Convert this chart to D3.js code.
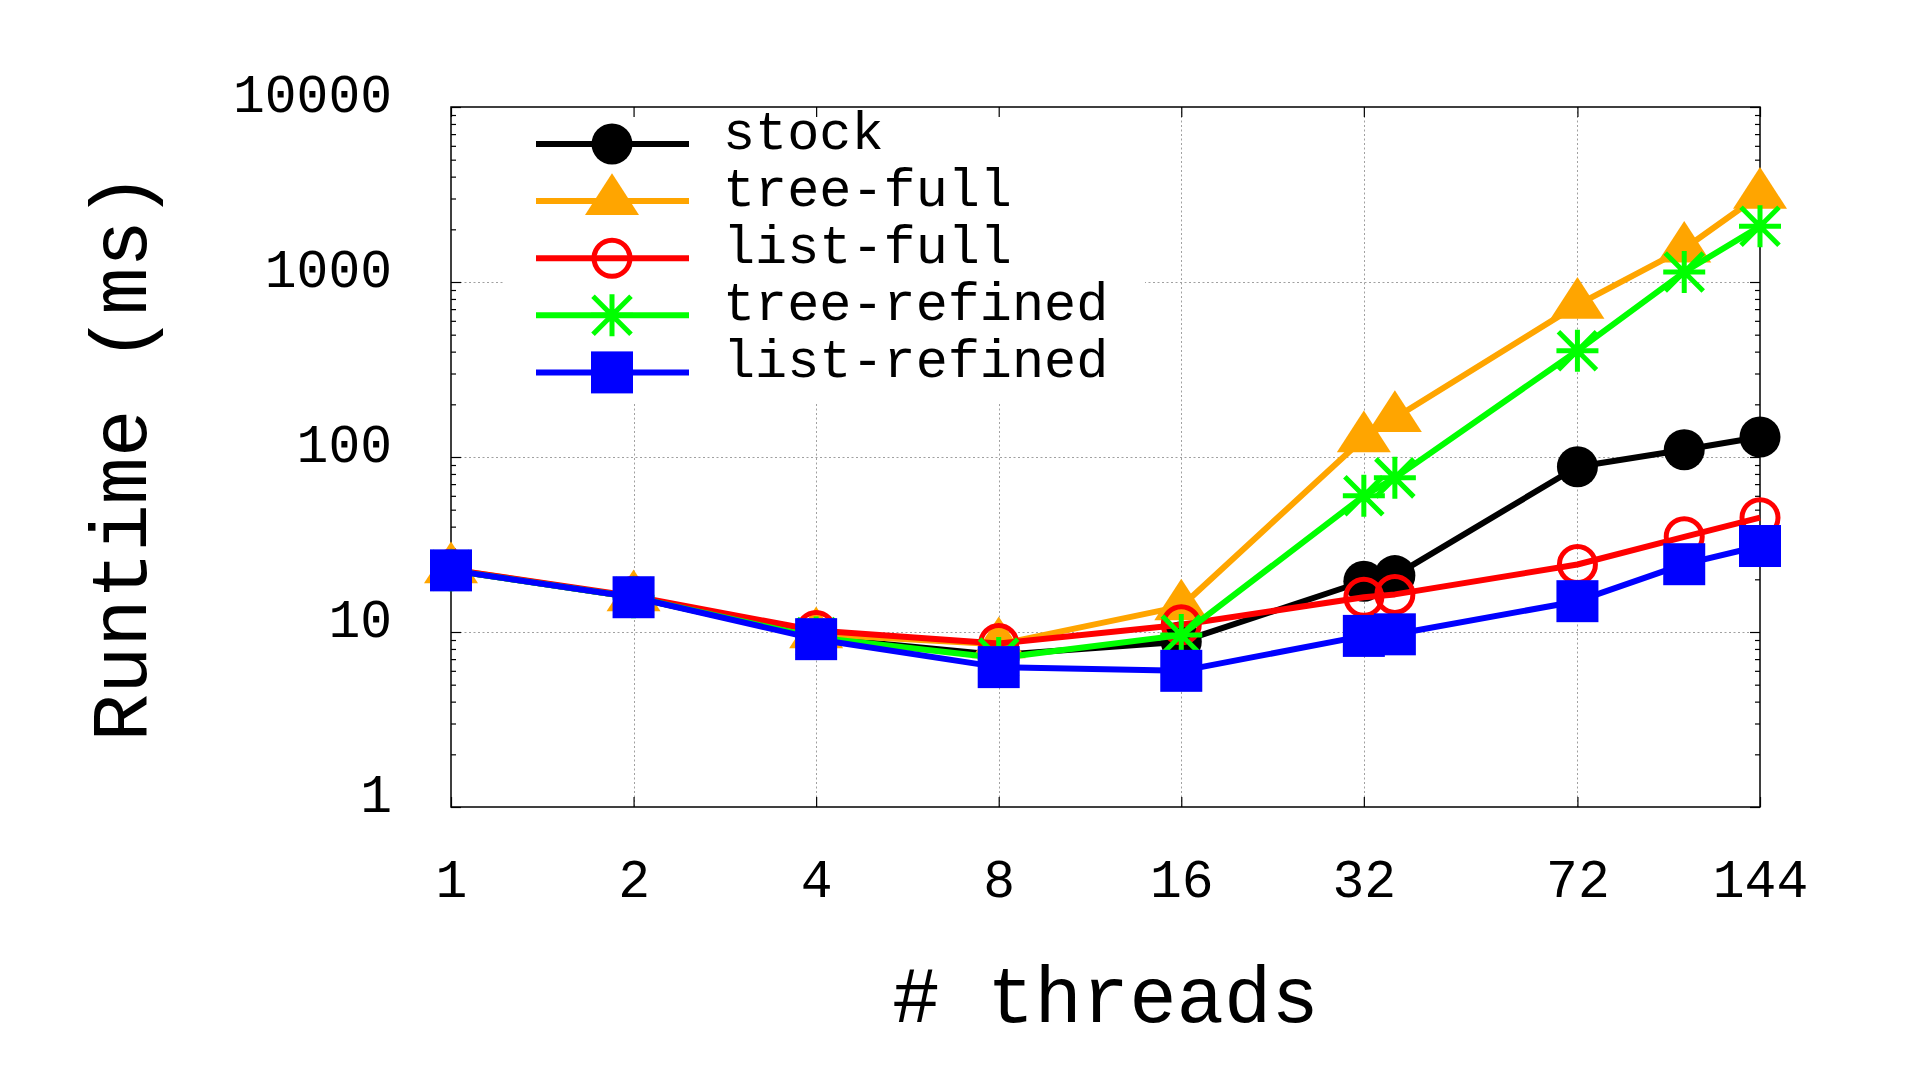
<!DOCTYPE html>
<html>
<head>
<meta charset="utf-8">
<script src="https://cdn.jsdelivr.net/npm/d3@7"></script>
<style>
  body { margin: 0; background: #fff; }
  text { font-family: "Liberation Mono", monospace; fill: #000; }
</style>
</head>
<body>
<div id="chart"></div>
<script>
// data
var threads = [1, 2, 4, 8, 16, 32, 36, 72, 108, 144];
var xTicks = [1, 2, 4, 8, 16, 32, 72, 144];
var yTicks = [1, 10, 100, 1000, 10000];
var seriesNames = ["stock", "tree-full", "list-full", "tree-refined", "list-refined"];
var stock       = [22.5, 15.8, 9.3, 7.4, 8.8, 19.5, 21, 88, 110, 130];
var treeFull    = [22.8, 15.8, 9.7, 8.5, 14, 128, 167, 740, 1550, 3150];
var listFull    = [22.8, 16, 10.2, 8.6, 11, 15.8, 16.4, 24.3, 35, 45];
var treeRefined = [22.5, 15.8, 9.3, 7.1, 9.6, 60, 76, 405, 1140, 2080];
var listRefined = [22.5, 15.8, 9.1, 6.3, 6.0, 9.5, 9.7, 15, 24.4, 31];

var seriesValues = [stock, treeFull, listFull, treeRefined, listRefined];
var colors = ["#000000", "#ffa500", "#ff0000", "#00ff00", "#0000ff"];
var markers = ["circle", "triangle", "ring", "star", "square"];

// set the dimensions and margins of the graph
var margin = { top: 107, right: 160, bottom: 273, left: 451 },
  width = 1920 - margin.left - margin.right,
  height = 1080 - margin.top - margin.bottom;

var x = d3.scaleLog().base(2)
  .domain([1, 144])
  .range([0, width]);

var y = d3.scaleLog()
  .domain([1, 10000])
  .range([height, 0]);

var svg = d3.select("#chart")
  .append("svg")
  .attr("width", 1920)
  .attr("height", 1080)
  .append("g")
  .attr("transform", "translate(" + margin.left + "," + margin.top + ")");

// grid
var grid = svg.append("g")
  .attr("stroke", "#a0a0a0")
  .attr("stroke-width", 1)
  .attr("stroke-dasharray", "2,2.5");

grid.selectAll(".gx")
  .data(xTicks.slice(1, -1))
  .enter().append("line")
  .attr("x1", function (d) { return Math.round(x(d)) + 0.5; })
  .attr("x2", function (d) { return Math.round(x(d)) + 0.5; })
  .attr("y1", 0)
  .attr("y2", height);

grid.selectAll(".gy")
  .data(yTicks.slice(1, -1))
  .enter().append("line")
  .attr("y1", function (d) { return Math.round(y(d)) + 0.5; })
  .attr("y2", function (d) { return Math.round(y(d)) + 0.5; })
  .attr("x1", 0)
  .attr("x2", width);

// legend background hides the grid
svg.append("rect")
  .attr("x", 53)
  .attr("y", 1)
  .attr("width", 641)
  .attr("height", 294)
  .attr("fill", "#fff");

// minor y ticks
var minor = [];
for (var e = 0; e < 4; e++) {
  for (var m = 2; m < 10; m++) minor.push(m * Math.pow(10, e));
}

function styleAxis(g) {
  g.select(".domain").remove();
  g.selectAll(".tick line").attr("stroke", "#000").attr("stroke-width", 1.2);
  g.selectAll(".tick text")
    .attr("font-family", "Liberation Mono")
    .attr("font-size", 53)
    .attr("fill", "#000");
}

// bottom / top axes
svg.append("g")
  .attr("transform", "translate(0," + height + ")")
  .call(d3.axisBottom(x).tickValues(xTicks).tickFormat(d3.format("d"))
    .tickSizeInner(-10).tickSizeOuter(0).tickPadding(52))
  .call(styleAxis);

svg.append("g")
  .call(d3.axisTop(x).tickValues(xTicks).tickFormat("")
    .tickSizeInner(-10).tickSizeOuter(0))
  .call(styleAxis);

// left / right axes
svg.append("g")
  .call(d3.axisLeft(y).tickValues(yTicks).tickFormat(d3.format("d"))
    .tickSizeInner(-10).tickSizeOuter(0).tickPadding(59))
  .call(styleAxis)
  .selectAll(".tick text").attr("dy", "0.08em");

svg.append("g")
  .call(d3.axisLeft(y).tickValues(minor).tickFormat("")
    .tickSizeInner(-5).tickSizeOuter(0))
  .call(styleAxis);

svg.append("g")
  .attr("transform", "translate(" + width + ",0)")
  .call(d3.axisRight(y).tickValues(yTicks).tickFormat("")
    .tickSizeInner(-10).tickSizeOuter(0))
  .call(styleAxis);

svg.append("g")
  .attr("transform", "translate(" + width + ",0)")
  .call(d3.axisRight(y).tickValues(minor).tickFormat("")
    .tickSizeInner(-5).tickSizeOuter(0))
  .call(styleAxis);

// frame
svg.append("rect")
  .attr("x", 0).attr("y", 0)
  .attr("width", width).attr("height", height)
  .attr("fill", "none")
  .attr("stroke", "#000")
  .attr("stroke-width", 1.5);

// axis titles
svg.append("text")
  .attr("x", width / 2)
  .attr("y", 1022 - margin.top)
  .attr("text-anchor", "middle")
  .attr("font-size", 79)
  .text("# threads");

svg.append("text")
  .attr("transform", "translate(" + (146 - margin.left) + "," + (457 - margin.top) + ") rotate(-90)")
  .attr("text-anchor", "middle")
  .attr("font-size", 79)
  .text("Runtime (ms)");

// markers
function drawMarker(g, type, color) {
  if (type === "circle") {
    g.append("circle").attr("r", 20.5).attr("fill", color);
  } else if (type === "ring") {
    g.append("circle").attr("r", 18).attr("fill", "none")
      .attr("stroke", color).attr("stroke-width", 5);
  } else if (type === "square") {
    g.append("rect").attr("x", -21).attr("y", -21)
      .attr("width", 42).attr("height", 42).attr("fill", color);
  } else if (type === "triangle") {
    g.append("path").attr("d", "M0,-27.8L27,13.9L-27,13.9Z").attr("fill", color);
  } else if (type === "star") {
    g.append("path")
      .attr("d", "M-21,0H21M0,-21V21M-19,-19L19,19M-19,19L19,-19")
      .attr("stroke", color).attr("stroke-width", 5).attr("fill", "none");
  }
}

var line = d3.line()
  .x(function (d) { return x(d.t); })
  .y(function (d) { return y(d.v); });

seriesValues.forEach(function (vals, i) {
  var pts = threads.map(function (t, j) { return { t: t, v: vals[j] }; });
  svg.append("path")
    .datum(pts)
    .attr("fill", "none")
    .attr("stroke", colors[i])
    .attr("stroke-width", 6)
    .attr("stroke-linejoin", "round")
    .attr("d", line);
  pts.forEach(function (p) {
    var g = svg.append("g")
      .attr("transform", "translate(" + x(p.t) + "," + y(p.v) + ")");
    drawMarker(g, markers[i], colors[i]);
  });
});

// legend
var legend = svg.append("g");
seriesNames.forEach(function (name, i) {
  var ly = 144 + i * 57.1 - margin.top;
  legend.append("line")
    .attr("x1", 536 - margin.left).attr("x2", 689 - margin.left)
    .attr("y1", ly).attr("y2", ly)
    .attr("stroke", colors[i]).attr("stroke-width", 6);
  var g = legend.append("g")
    .attr("transform", "translate(" + (612 - margin.left) + "," + ly + ")");
  drawMarker(g, markers[i], colors[i]);
  legend.append("text")
    .attr("x", 723 - margin.left)
    .attr("y", ly + 5)
    .attr("font-size", 53.5)
    .text(name);
});
</script>
</body>
</html>
